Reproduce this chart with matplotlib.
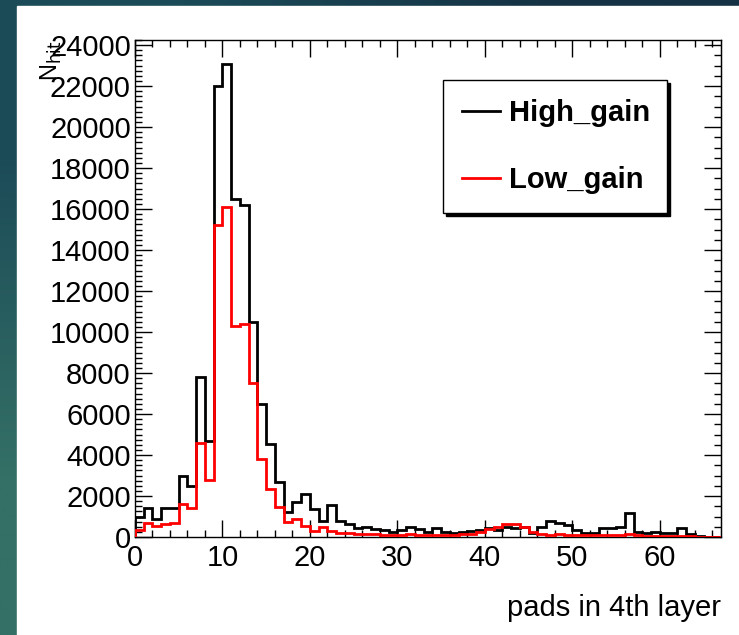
import matplotlib
matplotlib.use('Agg')
import matplotlib.pyplot as plt
import numpy as np
from matplotlib.patches import Rectangle
from matplotlib.lines import Line2D
from matplotlib.ticker import MultipleLocator

plt.rcParams['font.family'] = ['Liberation Sans', 'DejaVu Sans']

# one bin per pad count, 0..66
edges = np.arange(0, 68)

high_gain = [1000, 1400, 900, 1400, 1400, 3000, 2500, 7800, 4700, 22000,
             23100, 16500, 16200, 10500, 6500, 4550, 2700, 1200, 1700, 2100,
             1350, 780, 1550, 800, 650, 420, 500, 370, 340, 260,
             340, 500, 370, 260, 420, 260, 210, 260, 310, 340,
             420, 340, 500, 420, 500, 200, 500, 780, 680, 590,
             340, 200, 210, 420, 420, 500, 1150, 260, 180, 260,
             180, 180, 420, 150, 50, 20, 0]

low_gain = [340, 700, 550, 630, 700, 1600, 1400, 4570, 2800, 15200,
            16100, 10300, 10400, 7500, 3800, 2330, 1450, 750, 860, 540,
            310, 500, 310, 210, 180, 150, 130, 160, 120, 100,
            110, 140, 120, 100, 90, 110, 100, 130, 150, 250,
            370, 500, 620, 620, 500, 260, 150, 120, 130, 110,
            100, 90, 80, 90, 100, 90, 130, 80, 60, 60,
            50, 40, 50, 30, 20, 10, 0]

labels = ['High_gain', 'Low_gain']
colors = ['black', 'red']

W, H = 739, 635
fig = plt.figure(figsize=(W / 100, H / 100), dpi=100)

# slide background with white content area
bg = fig.add_axes([0, 0, 1, 1], zorder=-10)
corners = np.array([[[28, 75, 88], [20, 50, 68]],
                    [[52, 112, 102], [40, 90, 90]]]) / 255
bg.imshow(corners, extent=[0, 1, 0, 1], aspect='auto', interpolation='bilinear')
bg.add_patch(Rectangle((17 / W, 0), 1, 1 - 6 / H, color='white'))
bg.set_xlim(0, 1)
bg.set_ylim(0, 1)
bg.axis('off')

ax = fig.add_axes([135 / W, 1 - 537 / H, 586 / W, 497 / H])
ax.stairs(high_gain, edges, color=colors[0], lw=2, zorder=3)
ax.stairs(low_gain, edges, color=colors[1], lw=2, zorder=4)

ax.set_xlim(0, 67)
ax.set_ylim(0, 24250)

ax.xaxis.set_major_locator(MultipleLocator(10))
ax.xaxis.set_minor_locator(MultipleLocator(2))
ax.yaxis.set_major_locator(MultipleLocator(2000))
ax.yaxis.set_minor_locator(MultipleLocator(250))
ax.tick_params(which='both', direction='in', top=True, right=False, width=1)
ax.tick_params(which='major', length=12, labelsize=21)
ax.tick_params(which='minor', length=5)
ax.tick_params(axis='x', pad=5)
ax.tick_params(axis='y', pad=3)

sec = ax.secondary_yaxis('right')
sec.yaxis.set_major_locator(MultipleLocator(2000))
sec.yaxis.set_minor_locator(MultipleLocator(500))
sec.tick_params(which='both', direction='in', labelright=False, width=1)
sec.tick_params(which='major', length=12)
sec.tick_params(which='minor', length=5)

for s in ax.spines.values():
    s.set_linewidth(1)

ax.set_xlabel('pads in 4th layer', loc='right', fontsize=21, labelpad=16)
fig.text(51 / W, 1 - 40 / H, r'N$_{\mathrm{hit}}$', rotation=90,
         ha='center', va='top', fontsize=17)

handles = [Line2D([], [], color=c, lw=2) for c in colors]
leg = ax.legend(handles, labels, loc='upper left',
                bbox_to_anchor=(443 / W, 1 - 80 / H, 224 / W, 0),
                bbox_transform=fig.transFigure, mode='expand',
                prop={'weight': 'bold', 'size': 21}, frameon=True,
                fancybox=False, edgecolor='black', framealpha=1,
                shadow={'color': 'black', 'alpha': 1},
                borderpad=0.65, labelspacing=1.35, handlelength=1.3,
                handletextpad=0.3, borderaxespad=0)
leg.get_frame().set_linewidth(1)

fig.savefig('out.png', dpi=100)
